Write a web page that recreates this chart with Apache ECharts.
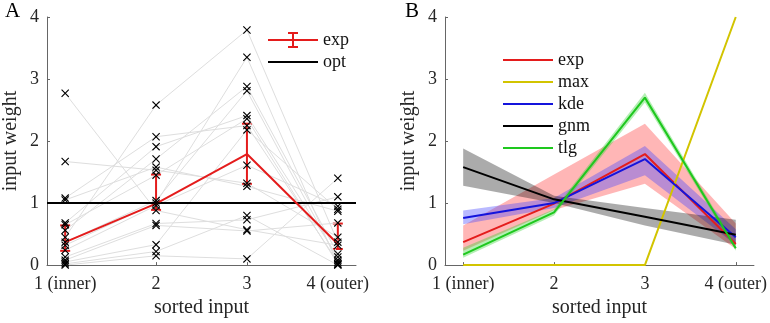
<!DOCTYPE html>
<html>
<head>
<meta charset="utf-8">
<script src="https://cdn.jsdelivr.net/npm/echarts@6/dist/echarts.min.js"></script>
<style>
  html, body { margin: 0; padding: 0; background: #fff; }
  #main { width: 770px; height: 323px; }
</style>
</head>
<body>
<div id="main"></div>
<script>
// tick labels of the x axis, positions 1..4
const categories = ['1 (inner)', '2', '3', '4 (outer)'];
const xPos = [1, 2, 3, 4];
const yTicks = [0, 1, 2, 3, 4];

// panel A: one row per subject (weights at inputs 1..4)
const subjects = [
  [2.77, 0.88, 0.57, 0.32],
  [1.67, 1.53, 1.32, 0.45],
  [1.08, 2.07, 2.25, 0.05],
  [1.05, 1.58, 1.27, 0.87],
  [0.68, 1.91, 2.41, 0.13],
  [0.65, 1.45, 2.36, 0.02],
  [0.56, 1.71, 2.88, 0.18],
  [0.45, 2.58, 3.79, 0.37],
  [0.37, 1.04, 2.81, 0.08],
  [0.32, 1.00, 3.35, 0.01],
  [0.24, 0.96, 1.61, 0.95],
  [0.13, 0.67, 0.73, 1.10],
  [0.08, 0.64, 0.55, 0.68],
  [0.05, 0.33, 2.18, 0.90],
  [0.02, 0.22, 0.80, 0.00],
  [0.00, 0.15, 0.10, 1.40]
];
const expMean = [0.37, 0.99, 1.79, 0.34];
const expLo = [0.23, 0.89, 1.31, 0.26];
const expHi = [0.64, 1.46, 2.28, 0.67];
const optValue = 1;

// panel B: models
const maxVals = [0, 0, 0, 4];
const kdeMean = [0.76, 1.00, 1.71, 0.45];
const kdeLo = [0.66, 0.92, 1.45, 0.33];
const kdeHi = [0.88, 1.08, 1.92, 0.58];
const gnmMean = [1.58, 1.06, 0.78, 0.49];
const gnmLo = [1.28, 1.00, 0.64, 0.33];
const gnmHi = [1.88, 1.12, 0.92, 0.73];
const tlgMean = [0.17, 0.85, 2.70, 0.27];
const tlgLo = [0.12, 0.80, 2.62, 0.23];
const tlgHi = [0.28, 0.90, 2.78, 0.32];

const FONT = 'Liberation Serif';
const RED = '#e41c1c';
const YEL = '#d2c400';
const BLUE = '#1414dc';
const GREEN = '#1ec81e';
const CROSS = 'path://M0,1 L1,0 L5,4 L9,0 L10,1 L6,5 L10,9 L9,10 L5,6 L1,10 L0,9 L4,5 Z';
const ERR_ICON = 'path://M0,7H50V9H0Z M24,1H26V15H24Z M20,0H30V2H20Z M20,14H30V16H20Z';
const LINE_ICON = 'path://M0,0H50V2H0Z';

var myChart = echarts.init(document.getElementById('main'));

function pairs(vals) {
  return xPos.map((x, i) => [x, vals[i]]);
}

function xAxisFor(idx) {
  return {
    gridIndex: idx, type: 'value', min: 0.8, max: 4.2,
    name: 'sorted input', nameLocation: 'middle', nameGap: 32,
    nameTextStyle: { fontFamily: FONT, fontSize: 20, color: '#262626' },
    axisLine: { lineStyle: { color: '#666', width: 1 } },
    axisTick: { inside: true, length: 3, customValues: xPos, lineStyle: { color: '#666' } },
    axisLabel: {
      customValues: xPos, margin: 10,
      fontFamily: FONT, fontSize: 18, color: '#262626',
      formatter: v => categories[Math.round(v) - 1]
    },
    splitLine: { show: false }
  };
}

function yAxisFor(idx) {
  return {
    gridIndex: idx, type: 'value', min: 0, max: 4, interval: 1,
    name: 'input weight', nameLocation: 'middle', nameGap: 26,
    nameTextStyle: { fontFamily: FONT, fontSize: 20, color: '#262626' },
    axisLine: { show: true, lineStyle: { color: '#666', width: 1 } },
    axisTick: { show: true, inside: true, length: 3, lineStyle: { color: '#666' } },
    axisLabel: { margin: 8, fontFamily: FONT, fontSize: 18, color: '#262626' },
    splitLine: { show: false }
  };
}

// filled band between lo and hi, drawn once as one polygon
function bandSeries(idx, lo, hi, color) {
  return {
    type: 'custom', xAxisIndex: idx, yAxisIndex: idx, silent: true,
    data: xPos.map((x, i) => [x, lo[i], hi[i]]),
    renderItem: function (params, api) {
      if (params.dataIndex !== 0) return null;
      const pts = [];
      xPos.forEach((x, i) => pts.push(api.coord([x, hi[i]])));
      for (let i = xPos.length - 1; i >= 0; i--) pts.push(api.coord([xPos[i], lo[i]]));
      return { type: 'polygon', shape: { points: pts }, style: { fill: color } };
    }
  };
}

function lineSeries(idx, name, vals, color, width) {
  return {
    type: 'line', name: name, xAxisIndex: idx, yAxisIndex: idx,
    data: pairs(vals), symbol: 'none', silent: true,
    lineStyle: { color: color, width: width || 2 },
    itemStyle: { color: color }
  };
}

const series = [];

// panel A subjects
subjects.forEach(s => {
  series.push({
    type: 'line', xAxisIndex: 0, yAxisIndex: 0, silent: true,
    data: pairs(s),
    symbol: CROSS, symbolSize: 8, showAllSymbol: true,
    lineStyle: { color: '#dedede', width: 1 },
    itemStyle: { color: '#000' }
  });
});

series.push({
  type: 'line', name: 'opt', xAxisIndex: 0, yAxisIndex: 0, silent: true,
  data: [[0.8, optValue], [4.2, optValue]], symbol: 'none',
  lineStyle: { color: '#000', width: 2 }, itemStyle: { color: '#000' }
});

series.push(lineSeries(0, 'exp', expMean, RED, 2));

series.push({
  type: 'custom', xAxisIndex: 0, yAxisIndex: 0, silent: true,
  data: xPos.map((x, i) => [x, expLo[i], expHi[i]]),
  renderItem: function (params, api) {
    const x = api.value(0);
    const lo = api.coord([x, api.value(1)]);
    const hi = api.coord([x, api.value(2)]);
    const st = { stroke: RED, lineWidth: 2 };
    return {
      type: 'group',
      children: [
        { type: 'line', shape: { x1: lo[0], y1: lo[1], x2: hi[0], y2: hi[1] }, style: st },
        { type: 'line', shape: { x1: lo[0] - 5, y1: lo[1], x2: lo[0] + 5, y2: lo[1] }, style: st },
        { type: 'line', shape: { x1: hi[0] - 5, y1: hi[1], x2: hi[0] + 5, y2: hi[1] }, style: st }
      ]
    };
  }
});

// panel B models
series.push(bandSeries(1, expLo, expHi, 'rgba(255,110,110,0.5)'));
series.push(lineSeries(1, 'exp', expMean, RED, 2));
series.push(lineSeries(1, 'max', maxVals, YEL, 2));
series.push(bandSeries(1, kdeLo, kdeHi, 'rgba(70,70,255,0.38)'));
series.push(lineSeries(1, 'kde', kdeMean, BLUE, 2));
series.push(bandSeries(1, gnmLo, gnmHi, 'rgba(0,0,0,0.33)'));
series.push(lineSeries(1, 'gnm', gnmMean, '#000', 2));
series.push(bandSeries(1, tlgLo, tlgHi, 'rgba(40,210,40,0.35)'));
series.push(lineSeries(1, 'tlg', tlgMean, GREEN, 2));

const legendText = { fontFamily: FONT, fontSize: 18, color: '#111', lineHeight: 16 };

let option = {
  animation: false,
  backgroundColor: '#fff',
  title: [
    { text: 'A', left: 0, top: -4, textStyle: { fontFamily: FONT, fontSize: 21, fontWeight: 'normal', color: '#000' } },
    { text: 'B', left: 400, top: -4, textStyle: { fontFamily: FONT, fontSize: 21, fontWeight: 'normal', color: '#000' } }
  ],
  grid: [
    { left: 44, top: 17, width: 312, height: 251 },
    { left: 445, top: 17, width: 312, height: 251 }
  ],
  xAxis: [xAxisFor(0), xAxisFor(1)],
  yAxis: [yAxisFor(0), yAxisFor(1)],
  legend: [
    {
      orient: 'vertical', left: 263, top: 26, itemWidth: 50, itemHeight: 16, itemGap: 4,
      selectedMode: false, textStyle: legendText,
      data: [
        { name: 'exp', icon: ERR_ICON, itemStyle: { color: RED } },
        { name: 'opt', icon: LINE_ICON, itemStyle: { color: '#000' } }
      ]
    },
    {
      orient: 'vertical', left: 498, top: 46, itemWidth: 50, itemHeight: 14, itemGap: 4,
      selectedMode: false, textStyle: legendText,
      data: [
        { name: 'exp', icon: LINE_ICON, itemStyle: { color: RED } },
        { name: 'max', icon: LINE_ICON, itemStyle: { color: YEL } },
        { name: 'kde', icon: LINE_ICON, itemStyle: { color: BLUE } },
        { name: 'gnm', icon: LINE_ICON, itemStyle: { color: '#000' } },
        { name: 'tlg', icon: LINE_ICON, itemStyle: { color: GREEN } }
      ]
    }
  ],
  series: series
};
myChart.setOption(option);
</script>
</body>
</html>
